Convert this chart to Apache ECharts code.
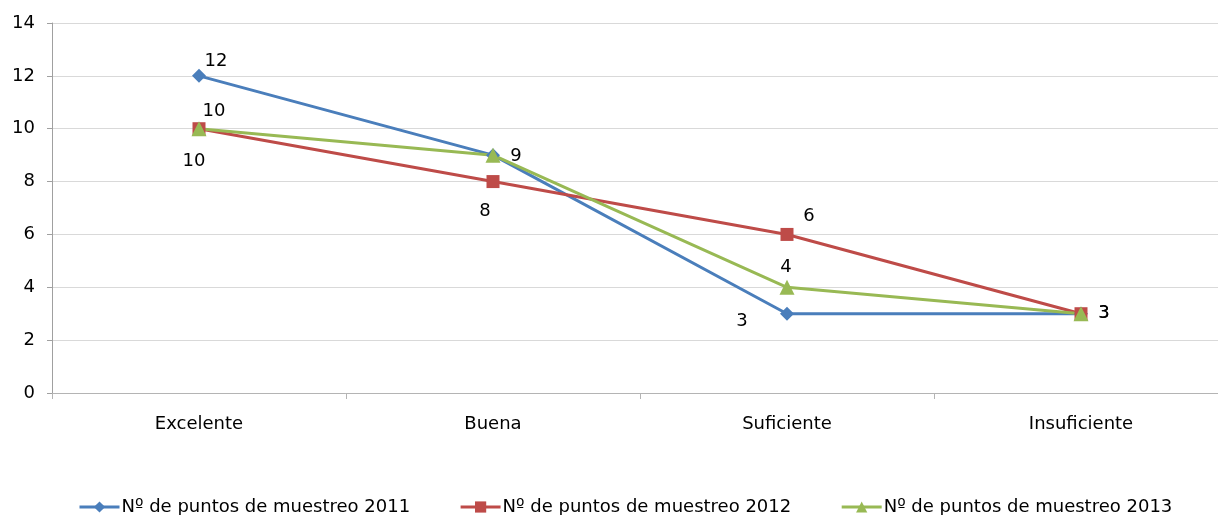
<!DOCTYPE html>
<html><head><meta charset="utf-8">
<script src="https://cdn.jsdelivr.net/npm/echarts@6/dist/echarts.min.js"></script>
<style>html,body{margin:0;padding:0;background:#fff;overflow:hidden;width:1218px;height:515px}#c{width:1240px;height:515px}</style>
</head><body><div id="c"></div>
<script>
const categories = ['Excelente', 'Buena', 'Suficiente', 'Insuficiente'];
const seriesNames = ['Nº de puntos de muestreo 2011', 'Nº de puntos de muestreo 2012', 'Nº de puntos de muestreo 2013'];
const values2011 = [12, 9, 3, 3];
const values2012 = [10, 8, 6, 3];
const values2013 = [10, 9, 4, 3];
const yTicks = [0, 2, 4, 6, 8, 10, 12, 14];

const colors = ['#4A7EBB', '#BE4B48', '#98B954'];
const symbols = ['diamond', 'rect', 'triangle'];
const symbolSizes = [14, 13, 15];
// label offsets (dx, dy) relative to each point; null = hidden
const labelOffsets = [
  [[17, -15], null, [-45, 8], null],
  [[-5, 33], [-8, 30], [22, -18], [23, 0]],
  [[15, -17], [23, 1], [-1, -20], [23, 0]]
];
const allValues = [values2011, values2012, values2013];
const FONT = 'DejaVu Sans';

const series = allValues.map((vals, si) => ({
  name: seriesNames[si],
  type: 'line',
  data: vals.map((v, i) => {
    const off = labelOffsets[si][i];
    return {
      value: v,
      label: off ? { show: true, position: 'inside', offset: off } : { show: false }
    };
  }),
  symbol: symbols[si],
  symbolSize: symbolSizes[si],
  showAllSymbol: true,
  lineStyle: { color: colors[si], width: 3 },
  itemStyle: { color: colors[si] },
  label: { color: '#000', fontSize: 18, fontFamily: FONT, textBorderWidth: 0 },
  emphasis: { disabled: true },
  animation: false
}));

const chart = echarts.init(document.getElementById('c'));
chart.setOption({
  animation: false,
  color: colors,
  grid: { left: 52, top: 23, width: 1176, height: 370, containLabel: false },
  xAxis: {
    type: 'category',
    data: categories,
    boundaryGap: true,
    axisLine: { lineStyle: { color: '#B4B4B4' } },
    axisTick: { show: true, length: 6, lineStyle: { color: '#B4B4B4' } },
    axisLabel: { color: '#000', fontSize: 18, fontFamily: FONT, margin: 22 }
  },
  yAxis: {
    type: 'value',
    min: 0, max: 14, interval: 2,
    axisLine: { show: true, lineStyle: { color: '#A0A0A0' } },
    axisTick: { show: true, length: 5, lineStyle: { color: '#A0A0A0' } },
    splitLine: { lineStyle: { color: '#D9D9D9' } },
    axisLabel: { color: '#000', fontSize: 18, fontFamily: FONT, margin: 17,
      formatter: v => yTicks.includes(v) ? String(v) : '' }
  },
  legend: {
    top: 493, left: 73,
    itemWidth: 40, itemHeight: 14, itemGap: 49,
    lineStyle: { width: 3 },
    textStyle: { color: '#000', fontSize: 18, fontFamily: FONT, padding: [0, 0, 0, -3] },
    data: seriesNames
  },
  series: series
});
</script></body></html>
